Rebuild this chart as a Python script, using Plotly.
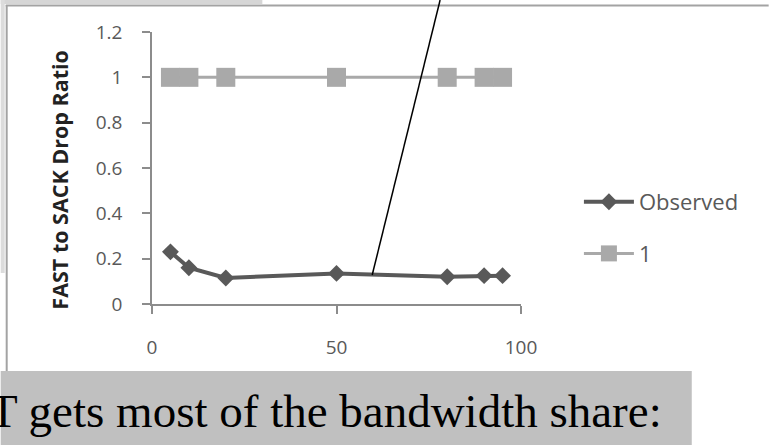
import plotly.graph_objects as go

x_vals = [5, 10, 20, 50, 80, 90, 95]
observed = [0.23, 0.16, 0.115, 0.135, 0.12, 0.125, 0.125]
ones = [1, 1, 1, 1, 1, 1, 1]
x_ticks = [0, 50, 100]
y_ticks = [0, 0.2, 0.4, 0.6, 0.8, 1, 1.2]
y_tick_text = ["0", "0.2", "0.4", "0.6", "0.8", "1", "1.2"]

W, H = 769, 445
L, R, T, B = 151.5, 521, 32, 304

def px(x):
    return (x - L) / (R - L)

def py(y):
    return (B - y) / (B - T)

fig = go.Figure()
fig.add_trace(go.Scatter(
    x=x_vals, y=observed, name="Observed", mode="lines+markers",
    line=dict(color="#595959", width=4),
    marker=dict(symbol="diamond", size=13, color="#595959"),
    legendgroup="a",
))
fig.add_trace(go.Scatter(
    x=x_vals, y=ones, name="1", mode="lines+markers",
    line=dict(color="#a9a9a9", width=3),
    marker=dict(symbol="square", size=19, color="#a9a9a9"),
    legendgroup="b",
))

shapes = [
    dict(type="rect", xref="paper", yref="paper", x0=px(0), x1=px(262), y0=py(0), y1=py(4),
         fillcolor="#d6d6d6", line=dict(width=0), layer="below"),
    dict(type="rect", xref="paper", yref="paper", x0=px(0), x1=px(4), y0=py(0), y1=py(273),
         fillcolor="#dcdcdc", line=dict(width=0), layer="below"),
    dict(type="line", xref="paper", yref="paper", x0=px(5), x1=px(769), y0=py(5.5), y1=py(5.5),
         line=dict(color="#a3a3a3", width=2)),
    dict(type="line", xref="paper", yref="paper", x0=px(6), x1=px(6), y0=py(5), y1=py(371),
         line=dict(color="#a3a3a3", width=2)),
    dict(type="rect", xref="paper", yref="paper", x0=px(0), x1=px(692), y0=py(371), y1=py(446),
         fillcolor="#c0c0c0", line=dict(width=0)),
    dict(type="line", xref="paper", yref="paper", x0=px(372), x1=px(440), y0=py(275), y1=py(0),
         line=dict(color="#000000", width=1.5)),
]

annotations = [
    dict(text="<b>FAST to SACK Drop Ratio</b>", xref="paper", yref="paper", x=px(58), y=py(180),
         textangle=-90, showarrow=False, xanchor="center", yanchor="middle",
         font=dict(family="Open Sans", size=21.5, color="#222222")),
    dict(text="T gets most of the bandwidth share:", xref="paper", yref="paper", x=px(664), y=py(411),
         showarrow=False, xanchor="right", yanchor="middle",
         font=dict(family="Liberation Serif", size=47, color="#000000")),
]

fig.update_layout(
    width=W, height=H,
    margin=dict(l=L, r=W - R, t=T, b=H - B, pad=0),
    paper_bgcolor="white", plot_bgcolor="white",
    font=dict(family="Open Sans", size=19, color="#595959"),
    xaxis=dict(range=[0, 100], tickvals=x_ticks, showgrid=False, zeroline=False,
               showline=True, linecolor="#8c8c8c", linewidth=1.5,
               ticks="outside", ticklen=8, tickcolor="#8c8c8c", tickwidth=1.5,
               ticklabelstandoff=17),
    yaxis=dict(range=[0, 1.2], tickvals=y_ticks, ticktext=y_tick_text, showgrid=False, zeroline=False,
               showline=True, linecolor="#8c8c8c", linewidth=1.5,
               ticks="outside", ticklen=8, tickcolor="#8c8c8c", tickwidth=1.5,
               ticklabelstandoff=16),
    legend=dict(x=px(579), y=py(181), xanchor="left", yanchor="top", bgcolor="rgba(0,0,0,0)",
                font=dict(size=22, color="#595959"), tracegroupgap=20, traceorder="grouped",
                itemwidth=50),
    shapes=shapes,
    annotations=annotations,
)

fig.write_html("out.html")
